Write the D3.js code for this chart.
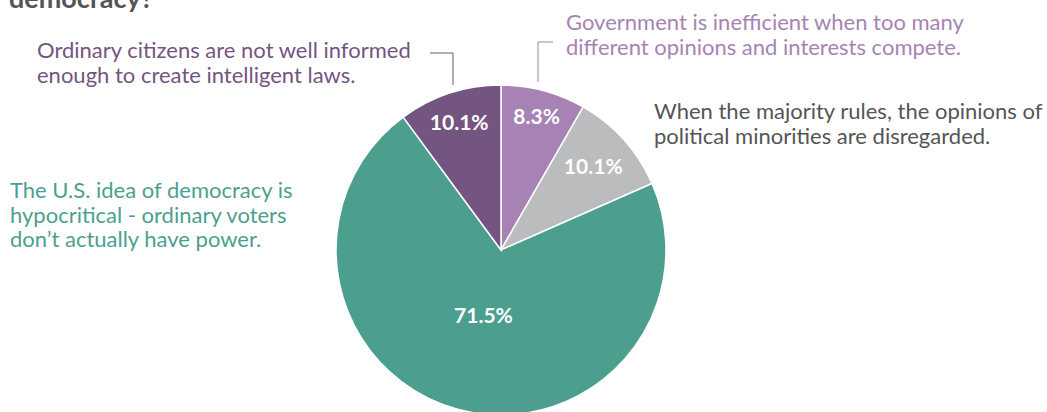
<!DOCTYPE html>
<html><head><meta charset="utf-8">
<script src="https://cdn.jsdelivr.net/npm/d3@7"></script>
<style>
body{margin:0;background:#fff;}
svg{display:block;font-family:Lato,"Open Sans",sans-serif;}
</style></head>
<body><svg id="c" width="1047" height="412"></svg>
<script>
const categories = ["Government is inefficient when too many different opinions and interests compete.",
  "When the majority rules, the opinions of political minorities are disregarded.",
  "The U.S. idea of democracy is hypocritical - ordinary voters don\u2019t actually have power.",
  "Ordinary citizens are not well informed enough to create intelligent laws."];
const values = [8.3, 10.1, 71.5, 10.1];
const colors = ["#a783b5", "#bbbcbd", "#4c9f8f", "#745581"];
const labelLines = [
  ["Government is inefficient when too many", "different opinions and interests compete."],
  ["When the majority rules, the opinions of", "political minorities are disregarded."],
  ["The U.S. idea of democracy is", "hypocritical - ordinary voters", "don\u2019t actually have power."],
  ["Ordinary citizens are not well informed", "enough to create intelligent laws."]
];
const labelColors = ["#a783b5", "#555555", "#4c9f8f", "#745581"];
const title = "democracy?";

const svg = d3.select("#c");
const cx = 501, cy = 250, R = 165;

svg.append("text").attr("x", 9).attr("y", 8).attr("font-size", 27).attr("font-weight", 700)
  .attr("fill", "#555").text(title);

const pie = d3.pie().sort(null).value(d => d)(values);
const arc = d3.arc().innerRadius(0).outerRadius(R);
const g = svg.append("g").attr("transform", `translate(${cx},${cy})`);
g.selectAll("path").data(pie).join("path")
  .attr("d", arc).attr("fill", (d, i) => colors[i])
  .attr("stroke", "#fff").attr("stroke-width", 1.5);

const labelR = [138, 124, 68, 134];
g.selectAll("text.pct").data(pie).join("text").attr("class", "pct")
  .attr("transform", (d, i) => {
    const c = d3.arc().innerRadius(labelR[i]).outerRadius(labelR[i]).centroid(d);
    return `translate(${c[0]},${c[1]})`;
  })
  .attr("text-anchor", "middle").attr("dy", "0.35em")
  .attr("font-size", 21).attr("font-weight", 700).attr("fill", "#fff")
  .text(d => d.data.toFixed(1) + "%");

// annotation labels
const labelPos = [[566, 30, "start"], [654, 119, "start"], [10, 198, "start"], [37, 58, "start"]];
labelLines.forEach((lines, i) => {
  const t = svg.append("text").attr("x", labelPos[i][0]).attr("y", labelPos[i][1])
    .attr("font-size", 22).attr("fill", labelColors[i]).attr("text-anchor", labelPos[i][2]);
  lines.forEach((l, j) => t.append("tspan").attr("x", labelPos[i][0]).attr("dy", j ? 24.5 : 0).text(l));
});

// connector lines
svg.append("path").attr("d", "M430,53H453V85").attr("fill", "none").attr("stroke", "#745581").attr("stroke-width", 1);
svg.append("path").attr("d", "M553,42H538V82").attr("fill", "none").attr("stroke", "#a783b5").attr("stroke-width", 1);
</script></body></html>
